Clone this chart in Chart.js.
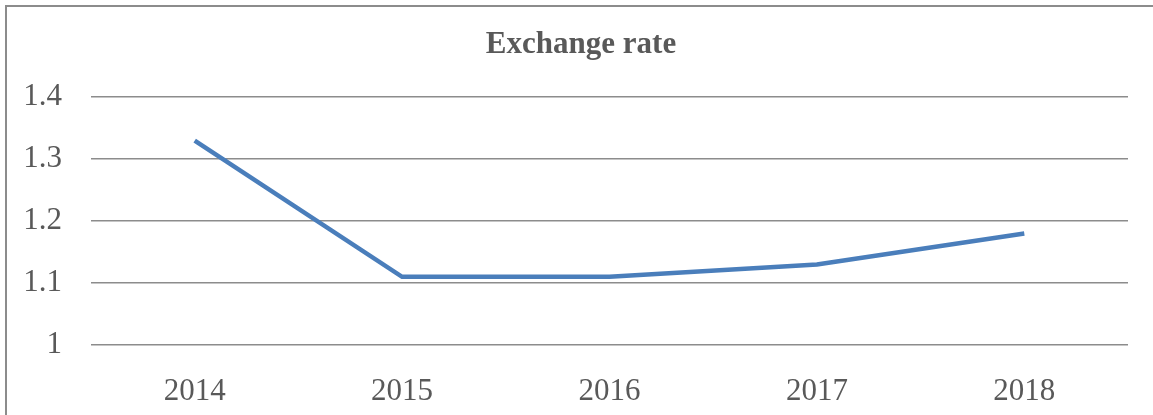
<!DOCTYPE html>
<html>
<head>
<meta charset="utf-8">
<script src="https://cdn.jsdelivr.net/npm/chart.js@4"></script>
<style>
  html, body { margin: 0; padding: 0; background: #fff; }
  .wrap { position: relative; width: 1153px; height: 415px; overflow: hidden; }
  .frame { position: absolute; left: 5px; top: 5px; width: 1200px; height: 500px; border-left: 2px solid #8c8c8c; border-top: 2px solid #8c8c8c; box-sizing: border-box; }
  canvas { position: absolute; left: 0; top: 0; }
</style>
</head>
<body>
<div class="wrap">
  <div class="frame"></div>
  <canvas id="myChart" width="1153" height="415"></canvas>
</div>
<script>
const years = ["2014", "2015", "2016", "2017", "2018"];
const exchangeRate = [1.33, 1.11, 1.11, 1.13, 1.18];
const yTicks = [1, 1.1, 1.2, 1.3, 1.4];

const textColor = "#595959";
const gridColor = "#8c8c8c";
const serif = "'Liberation Serif', 'Times New Roman', serif";

const ctx = document.querySelector("#myChart");
const myChart = new Chart(ctx, {
  type: "line",
  data: {
    labels: years,
    datasets: [
      {
        label: "Exchange rate",
        data: exchangeRate,
        borderColor: "#4a7ebb",
        borderWidth: 4.5,
        pointRadius: 0,
        tension: 0,
        fill: false,
      },
    ],
  },
  options: {
    responsive: false,
    animation: false,
    layout: { padding: { left: 9, right: 0, top: 0, bottom: 0 } },
    plugins: {
      legend: { display: false },
      tooltip: { enabled: false },
      title: {
        display: true,
        text: "Exchange rate",
        color: textColor,
        font: { family: serif, size: 31, weight: "bold", lineHeight: 1.2 },
        padding: { top: 26, bottom: 34 },
      },
    },
    scales: {
      x: {
        offset: true,
        grid: { display: false },
        border: { display: false },
        ticks: {
          color: textColor,
          font: { family: serif, size: 31 },
          padding: 20,
          maxRotation: 0,
        },
        afterFit: (scale) => {
          scale.height = 70;
        },
      },
      y: {
        min: 1,
        max: 1.4,
        afterBuildTicks: (scale) => {
          scale.ticks = yTicks.map((v) => ({ value: v }));
        },
        grid: { color: gridColor, lineWidth: 1.6, drawTicks: false },
        border: { display: false },
        ticks: {
          color: textColor,
          font: { family: serif, size: 31 },
          padding: 29,
          callback: (v) => String(Math.round(v * 10) / 10),
        },
        afterFit: (scale) => {
          scale.width = 82;
        },
      },
      // empty right-hand space so the title centres on the whole frame
      yRight: {
        position: "right",
        min: 0,
        max: 1,
        grid: { display: false },
        border: { display: false },
        ticks: { display: false },
        afterFit: (scale) => {
          scale.width = 25;
        },
      },
    },
  },
});
</script>
</body>
</html>
